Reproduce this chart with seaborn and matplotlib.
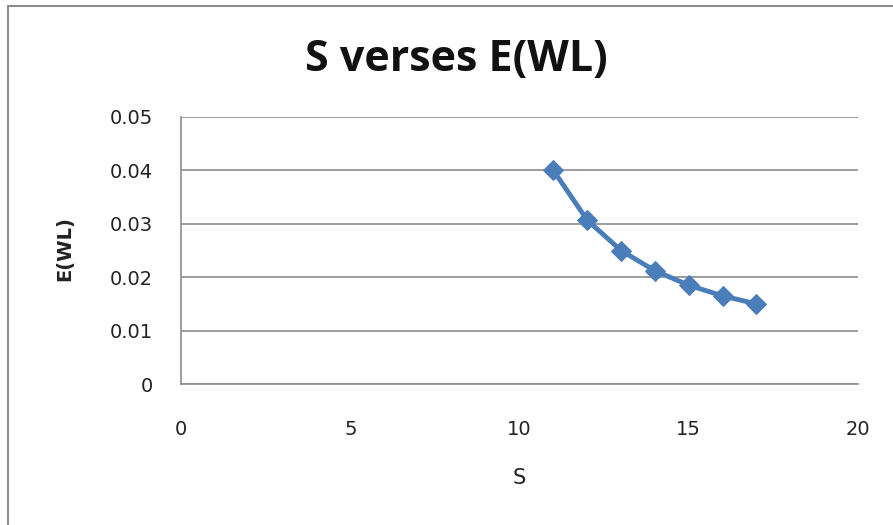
import matplotlib
matplotlib.use("Agg")
import matplotlib.pyplot as plt
import seaborn as sns
import pandas as pd
from matplotlib.patches import Rectangle

s_values = [11, 12, 13, 14, 15, 16, 17]
ewl_values = [0.040, 0.0307, 0.0250, 0.0212, 0.0185, 0.0165, 0.0150]
x_ticks = [0, 5, 10, 15, 20]
y_ticks = [0, 0.01, 0.02, 0.03, 0.04, 0.05]
y_tick_labels = ["0", "0.01", "0.02", "0.03", "0.04", "0.05"]

df = pd.DataFrame({"S": s_values, "E(WL)": ewl_values})

sns.set_style("white")
plt.rcParams['font.family'] = ['DejaVu Sans']

fig = plt.figure(figsize=(8.93, 5.25), dpi=100)
ax = fig.add_axes([181/893, 1-384/525, (858-181)/893, (384-117)/525])

sns.lineplot(data=df, x="S", y="E(WL)", ax=ax, color="#4A7EBB", linewidth=3.5,
             marker="D", markersize=10, markeredgecolor="#4A7EBB")

ax.set_xlim(0, 20)
ax.set_ylim(0, 0.05)
ax.set_xticks(x_ticks)
ax.set_xticklabels([str(t) for t in x_ticks])
ax.set_yticks(y_ticks)
ax.set_yticklabels(y_tick_labels)
ax.tick_params(axis="both", length=0, labelsize=14, colors="#222222")
ax.tick_params(axis="x", pad=26)
ax.tick_params(axis="y", pad=20)
ax.yaxis.grid(True, color="#8C8C8C", linewidth=1.2)
ax.xaxis.grid(False)
for side in ["top", "right"]:
    ax.spines[side].set_visible(False)
for side in ["left", "bottom"]:
    ax.spines[side].set_color("#8C8C8C")
    ax.spines[side].set_linewidth(1.2)

ax.set_xlabel("")
ax.set_ylabel("")
fig.text(519/893, 1-478/525, "S", ha="center", va="center", fontsize=15, color="#222222")
fig.text(65/893, 1-249/525, "E(WL)", ha="center", va="center", rotation=90,
         fontsize=14, fontweight="bold", color="#222222")

fig.text(456/893, 1-60/525, "S verses E(WL)", ha="center", va="center",
         fontsize=31, fontweight="bold", color="#111111", family="Open Sans")

fig.patches.append(Rectangle((8/893, -0.1), 1.2, 1-6/525+0.1, transform=fig.transFigure,
                             fill=False, edgecolor="#8C8C8C", linewidth=1.5))

fig.savefig("out.png", dpi=100)
